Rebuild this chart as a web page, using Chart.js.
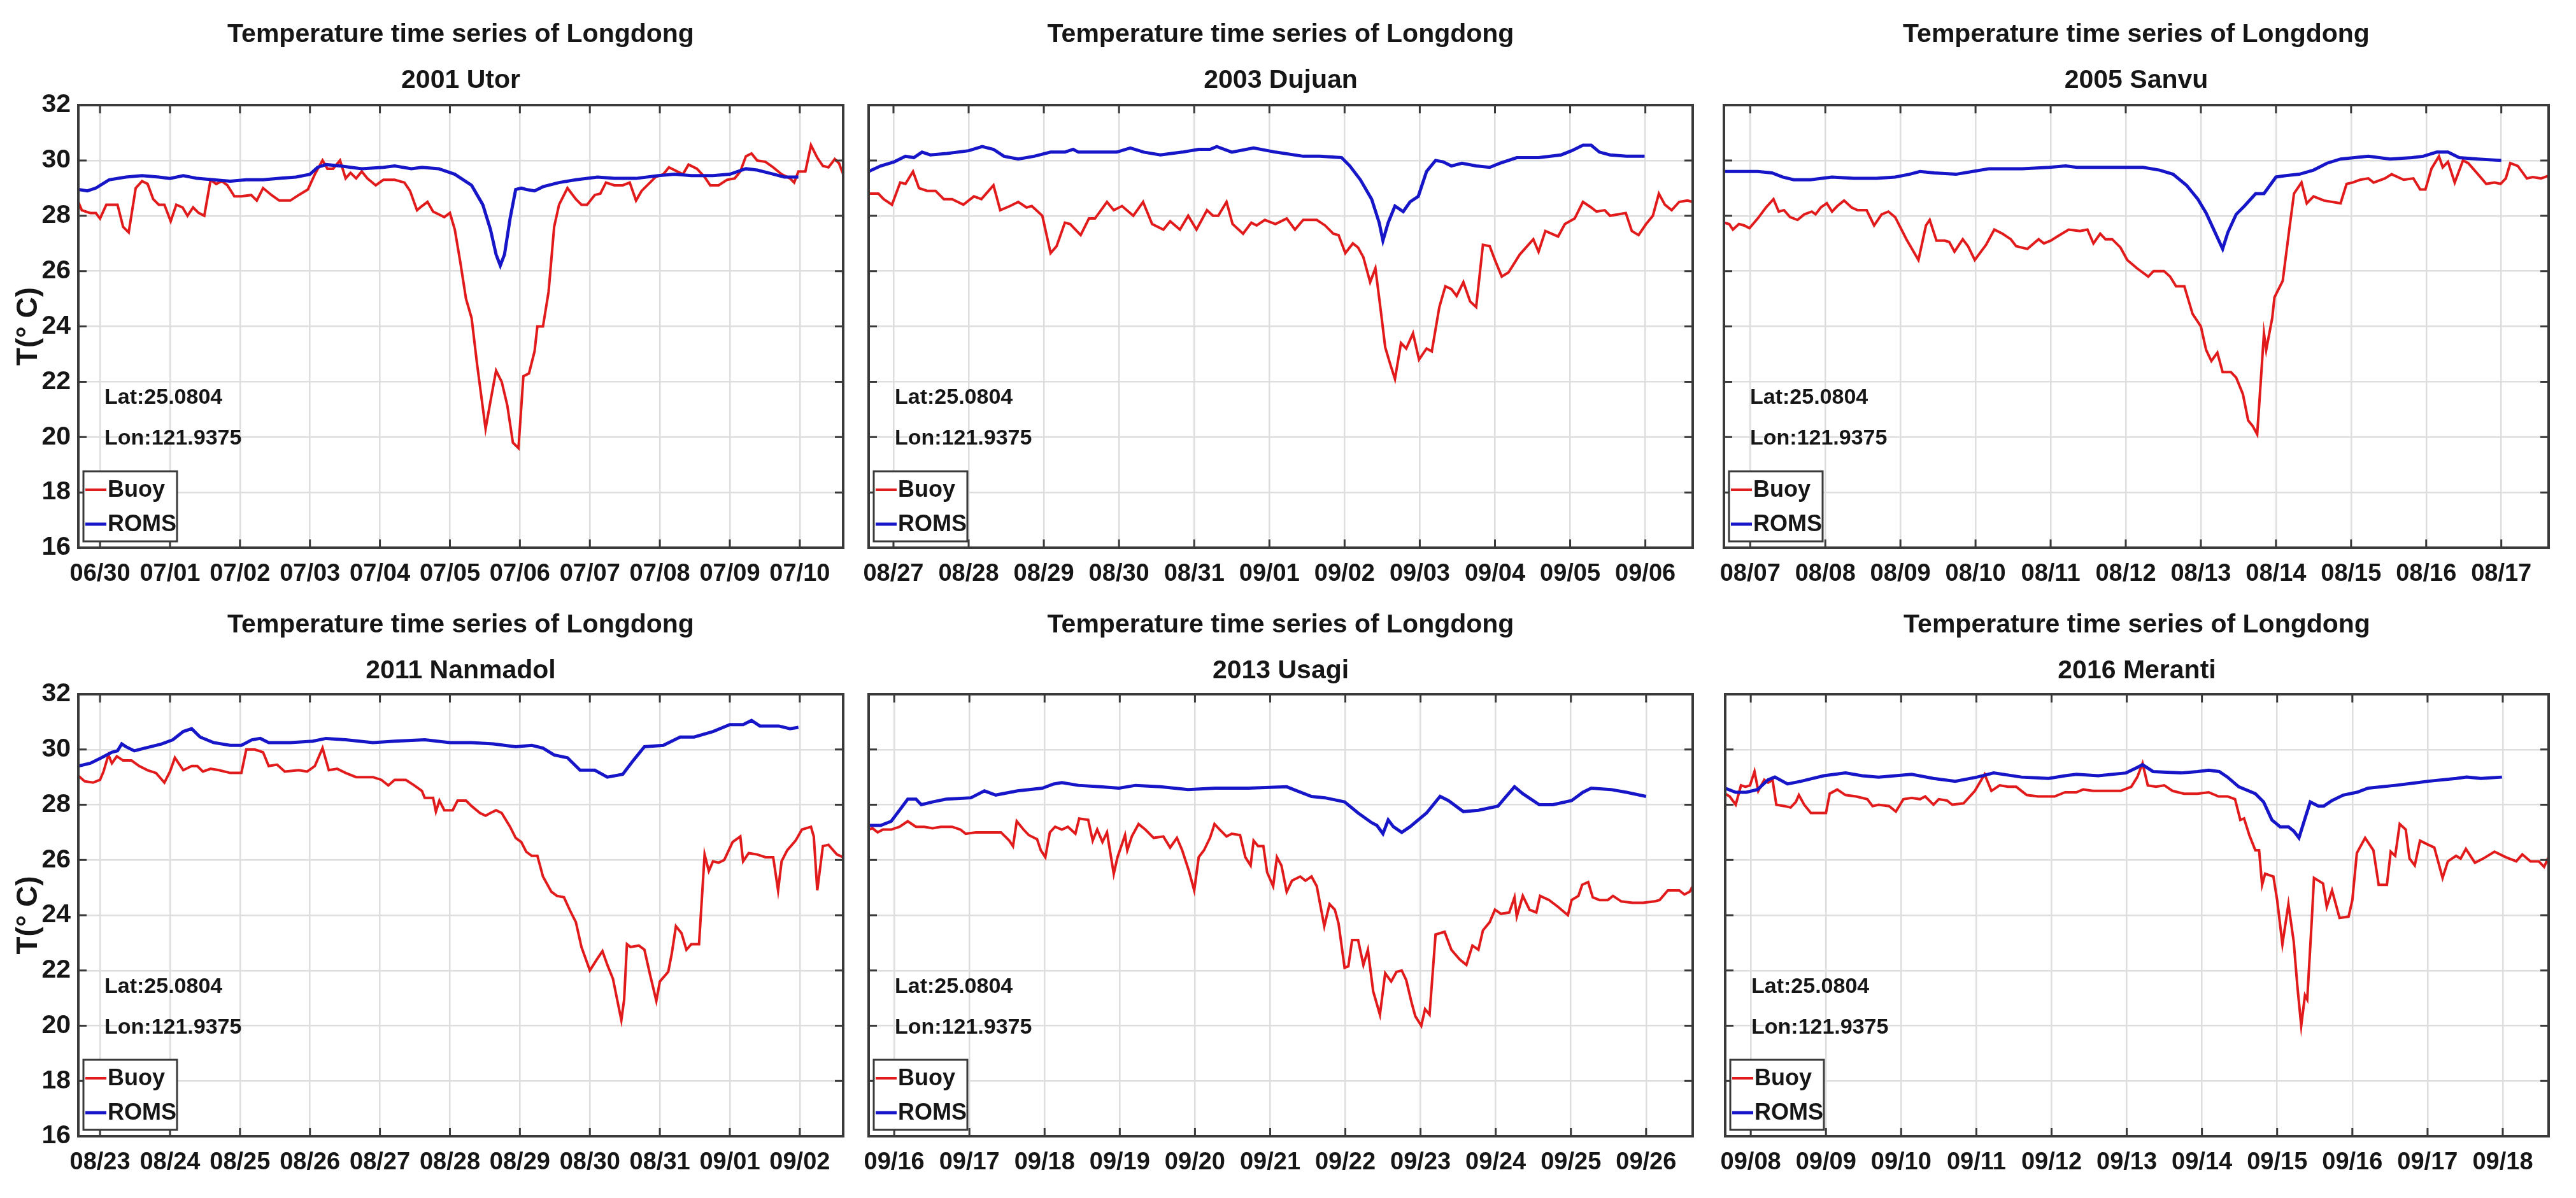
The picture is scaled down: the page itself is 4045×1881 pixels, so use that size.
<!DOCTYPE html>
<html>
<head>
<meta charset="utf-8">
<title>Temperature time series of Longdong</title>
<script src="https://cdn.jsdelivr.net/npm/chart.js@4.4.0/dist/chart.umd.min.js"></script>
<style>
  html, body { margin: 0; padding: 0; background: #fff; }
  #wrap { position: relative; width: 4045px; height: 1881px; overflow: hidden; background: #fff; }
  #wrap canvas { position: absolute; }
</style>
</head>
<body>
<div id="wrap"></div>
<script>
// station
const stationLat = '25.0804';
const stationLon = '121.9375';
const tempTicks = [16, 18, 20, 22, 24, 26, 28, 30, 32];

// x = days after the first labelled date, y = temperature (deg C)
const utorDates = ['06/30', '07/01', '07/02', '07/03', '07/04', '07/05', '07/06', '07/07', '07/08', '07/09', '07/10'];
const utorBuoy = [[-0.31,28.5],[-0.26,28.2],[-0.14,28.1],[-0.06,28.1],[0,27.9],[0.09,28.4],[0.21,28.4],[0.25,28.4],[0.33,27.6],[0.41,27.4],[0.51,29.0],[0.60,29.25],[0.68,29.15],[0.76,28.6],[0.84,28.4],[0.92,28.4],[1.01,27.8],[1.09,28.4],[1.18,28.3],[1.25,28.0],[1.33,28.3],[1.41,28.1],[1.49,28.0],[1.58,29.3],[1.66,29.15],[1.74,29.25],[1.82,29.1],[1.92,28.7],[2.02,28.7],[2.16,28.75],[2.24,28.55],[2.33,29.0],[2.45,28.75],[2.56,28.55],[2.72,28.55],[2.84,28.75],[2.97,28.95],[3.07,29.5],[3.18,30.0],[3.25,29.7],[3.33,29.7],[3.43,30.0],[3.51,29.35],[3.58,29.55],[3.66,29.35],[3.74,29.6],[3.82,29.35],[3.94,29.1],[4.05,29.3],[4.21,29.3],[4.35,29.2],[4.43,28.9],[4.53,28.2],[4.60,28.35],[4.68,28.5],[4.76,28.15],[4.84,28.05],[4.92,27.95],[5.00,28.1],[5.07,27.5],[5.15,26.3],[5.23,25.0],[5.31,24.3],[5.39,22.6],[5.51,20.3],[5.58,21.3],[5.66,22.4],[5.74,22.0],[5.82,21.15],[5.90,19.8],[5.98,19.6],[6.05,22.2],[6.13,22.3],[6.21,23.1],[6.25,24.0],[6.33,24.0],[6.41,25.25],[6.49,27.6],[6.56,28.4],[6.68,29.0],[6.80,28.6],[6.88,28.4],[6.96,28.4],[7.07,28.75],[7.15,28.8],[7.23,29.2],[7.35,29.1],[7.47,29.1],[7.57,29.2],[7.66,28.55],[7.74,28.9],[7.86,29.2],[7.94,29.4],[8.05,29.5],[8.13,29.75],[8.25,29.6],[8.33,29.5],[8.41,29.85],[8.53,29.7],[8.64,29.4],[8.72,29.1],[8.84,29.1],[8.96,29.3],[9.07,29.35],[9.15,29.6],[9.23,30.15],[9.31,30.25],[9.39,30.0],[9.51,29.95],[9.62,29.75],[9.74,29.5],[9.86,29.35],[9.92,29.2],[9.98,29.6],[10.08,29.6],[10.16,30.55],[10.25,30.1],[10.33,29.8],[10.41,29.75],[10.50,30.05],[10.56,29.9],[10.62,29.5]];
const utorRoms = [[-0.31,28.95],[-0.18,28.9],[-0.06,29.0],[0.13,29.3],[0.37,29.4],[0.60,29.45],[0.84,29.4],[1.00,29.35],[1.19,29.45],[1.39,29.35],[1.62,29.3],[1.86,29.25],[2.09,29.3],[2.33,29.3],[2.56,29.35],[2.80,29.4],[3.00,29.5],[3.11,29.75],[3.23,29.85],[3.43,29.8],[3.74,29.7],[4.05,29.75],[4.21,29.8],[4.45,29.7],[4.60,29.75],[4.84,29.7],[5.07,29.5],[5.31,29.1],[5.47,28.4],[5.58,27.5],[5.66,26.6],[5.72,26.2],[5.78,26.6],[5.86,27.9],[5.94,28.95],[6.02,29.0],[6.09,28.95],[6.21,28.9],[6.33,29.05],[6.56,29.2],[6.80,29.3],[7.11,29.4],[7.35,29.35],[7.66,29.35],[7.98,29.45],[8.21,29.5],[8.45,29.45],[8.76,29.45],[9.00,29.5],[9.23,29.7],[9.39,29.65],[9.55,29.55],[9.78,29.4],[9.98,29.4]];

const dujuanDates = ['08/27', '08/28', '08/29', '08/30', '08/31', '09/01', '09/02', '09/03', '09/04', '09/05', '09/06'];
const dujuanBuoy = [[-0.33,28.8],[-0.20,28.8],[-0.13,28.6],[-0.02,28.4],[0.09,29.2],[0.16,29.15],[0.26,29.6],[0.34,29.0],[0.45,28.9],[0.56,28.9],[0.67,28.6],[0.78,28.6],[0.93,28.4],[1.07,28.7],[1.17,28.6],[1.33,29.1],[1.42,28.2],[1.55,28.35],[1.66,28.5],[1.77,28.3],[1.84,28.35],[1.98,28.0],[2.09,26.65],[2.17,26.9],[2.28,27.75],[2.35,27.7],[2.49,27.3],[2.60,27.9],[2.68,27.9],[2.84,28.5],[2.93,28.2],[3.04,28.35],[3.19,28.0],[3.32,28.5],[3.44,27.7],[3.59,27.5],[3.68,27.8],[3.81,27.5],[3.92,28.0],[4.03,27.5],[4.17,28.2],[4.25,28.0],[4.32,28.0],[4.43,28.5],[4.51,27.7],[4.65,27.35],[4.76,27.75],[4.83,27.65],[4.94,27.85],[5.08,27.7],[5.23,27.9],[5.34,27.5],[5.45,27.85],[5.63,27.85],[5.74,27.65],[5.85,27.35],[5.92,27.3],[6.01,26.65],[6.11,27.0],[6.18,26.85],[6.25,26.5],[6.34,25.6],[6.41,26.1],[6.48,24.6],[6.54,23.25],[6.60,22.7],[6.67,22.1],[6.75,23.4],[6.82,23.2],[6.91,23.75],[6.99,22.8],[7.09,23.2],[7.16,23.1],[7.26,24.7],[7.34,25.45],[7.42,25.35],[7.49,25.1],[7.58,25.6],[7.67,24.9],[7.75,24.7],[7.84,26.95],[7.93,26.9],[8.00,26.4],[8.09,25.8],[8.18,25.95],[8.33,26.6],[8.51,27.15],[8.58,26.7],[8.67,27.45],[8.84,27.25],[8.93,27.7],[9.06,27.9],[9.17,28.5],[9.28,28.3],[9.35,28.15],[9.46,28.2],[9.53,28.0],[9.64,28.05],[9.74,28.1],[9.82,27.45],[9.91,27.3],[10.01,27.7],[10.10,28.0],[10.18,28.8],[10.26,28.4],[10.35,28.2],[10.45,28.5],[10.56,28.55],[10.63,28.5]];
const dujuanRoms = [[-0.33,29.6],[-0.17,29.8],[0.01,29.95],[0.16,30.15],[0.27,30.1],[0.38,30.3],[0.49,30.2],[0.71,30.25],[1.00,30.35],[1.18,30.5],[1.33,30.4],[1.47,30.15],[1.66,30.05],[1.87,30.15],[2.09,30.3],[2.28,30.3],[2.39,30.4],[2.46,30.3],[2.75,30.3],[2.97,30.3],[3.15,30.45],[3.33,30.3],[3.55,30.2],[3.84,30.3],[4.06,30.4],[4.21,30.4],[4.30,30.5],[4.50,30.3],[4.79,30.45],[5.08,30.3],[5.45,30.15],[5.67,30.15],[5.96,30.1],[6.07,29.8],[6.21,29.3],[6.36,28.6],[6.46,27.75],[6.51,27.1],[6.58,27.75],[6.67,28.35],[6.78,28.15],[6.87,28.5],[6.98,28.7],[7.09,29.6],[7.21,30.0],[7.31,29.95],[7.42,29.8],[7.56,29.9],[7.75,29.8],[7.93,29.75],[8.07,29.9],[8.29,30.1],[8.58,30.1],[8.88,30.2],[9.02,30.35],[9.17,30.55],[9.28,30.55],[9.39,30.3],[9.53,30.2],[9.75,30.15],[9.99,30.15]];

const sanvuDates = ['08/07', '08/08', '08/09', '08/10', '08/11', '08/12', '08/13', '08/14', '08/15', '08/16', '08/17'];
const sanvuBuoy = [[-0.35,27.75],[-0.28,27.7],[-0.23,27.5],[-0.15,27.7],[-0.08,27.65],[-0.01,27.55],[0.10,27.9],[0.21,28.3],[0.31,28.6],[0.38,28.15],[0.45,28.2],[0.53,27.95],[0.63,27.85],[0.72,28.05],[0.82,28.15],[0.87,28.05],[0.94,28.3],[1.02,28.45],[1.09,28.15],[1.16,28.35],[1.25,28.55],[1.35,28.3],[1.43,28.2],[1.55,28.2],[1.65,27.65],[1.75,28.05],[1.84,28.15],[1.93,27.95],[2.08,27.15],[2.24,26.4],[2.34,27.65],[2.39,27.85],[2.48,27.1],[2.59,27.1],[2.65,27.05],[2.72,26.7],[2.83,27.15],[2.90,26.9],[2.99,26.4],[3.14,26.95],[3.25,27.5],[3.36,27.35],[3.47,27.15],[3.54,26.9],[3.69,26.8],[3.84,27.15],[3.91,27.0],[4.00,27.1],[4.09,27.25],[4.24,27.5],[4.39,27.45],[4.49,27.5],[4.57,27.0],[4.66,27.35],[4.73,27.15],[4.82,27.15],[4.93,26.85],[5.02,26.4],[5.15,26.1],[5.30,25.8],[5.37,26.0],[5.51,26.0],[5.59,25.8],[5.67,25.45],[5.78,25.45],[5.89,24.45],[6.00,24.0],[6.07,23.15],[6.14,22.75],[6.22,23.05],[6.29,22.35],[6.40,22.35],[6.47,22.15],[6.56,21.55],[6.63,20.6],[6.69,20.4],[6.75,20.1],[6.78,21.3],[6.84,23.75],[6.87,23.15],[6.95,24.3],[6.98,25.05],[7.09,25.65],[7.17,27.35],[7.24,28.8],[7.34,29.2],[7.41,28.45],[7.50,28.7],[7.64,28.55],[7.86,28.45],[7.94,29.15],[8.02,29.2],[8.12,29.3],[8.23,29.35],[8.30,29.2],[8.45,29.35],[8.54,29.5],[8.70,29.3],[8.83,29.35],[8.92,28.95],[8.99,28.95],[9.07,29.7],[9.17,30.15],[9.22,29.75],[9.29,29.95],[9.38,29.2],[9.49,30.0],[9.56,29.9],[9.69,29.5],[9.80,29.15],[9.91,29.2],[9.99,29.15],[10.06,29.35],[10.12,29.9],[10.22,29.8],[10.34,29.35],[10.42,29.4],[10.53,29.35],[10.63,29.45]];
const sanvuRoms = [[-0.35,29.6],[-0.12,29.6],[0.10,29.6],[0.29,29.55],[0.43,29.4],[0.58,29.3],[0.80,29.3],[1.09,29.4],[1.38,29.35],[1.68,29.35],[1.93,29.4],[2.12,29.5],[2.26,29.6],[2.45,29.55],[2.74,29.5],[2.96,29.6],[3.18,29.7],[3.40,29.7],[3.62,29.7],[3.98,29.75],[4.20,29.8],[4.35,29.75],[4.64,29.75],[4.93,29.75],[5.23,29.75],[5.45,29.65],[5.63,29.5],[5.81,29.1],[5.96,28.6],[6.07,28.1],[6.18,27.45],[6.29,26.8],[6.36,27.4],[6.47,28.05],[6.58,28.35],[6.73,28.8],[6.84,28.8],[7.00,29.4],[7.13,29.45],[7.31,29.5],[7.50,29.65],[7.68,29.9],[7.86,30.05],[8.23,30.15],[8.52,30.05],[8.81,30.1],[8.96,30.15],[9.14,30.3],[9.29,30.3],[9.44,30.1],[9.69,30.05],[10.00,30.0]];

const nanmadolDates = ['08/23', '08/24', '08/25', '08/26', '08/27', '08/28', '08/29', '08/30', '08/31', '09/01', '09/02'];
const nanmadolBuoy = [[-0.31,29.05],[-0.22,28.85],[-0.10,28.8],[0,28.9],[0.05,29.2],[0.12,29.8],[0.17,29.5],[0.24,29.75],[0.33,29.6],[0.45,29.6],[0.56,29.4],[0.68,29.25],[0.80,29.15],[0.92,28.8],[1.00,29.2],[1.07,29.7],[1.19,29.25],[1.31,29.4],[1.39,29.4],[1.47,29.2],[1.58,29.3],[1.70,29.25],[1.86,29.15],[2.02,29.15],[2.09,30.0],[2.21,30.0],[2.33,29.9],[2.41,29.4],[2.53,29.45],[2.64,29.2],[2.84,29.25],[2.96,29.2],[3.07,29.4],[3.18,30.05],[3.27,29.25],[3.39,29.3],[3.51,29.15],[3.66,29.0],[3.78,29.0],[3.90,29.0],[4.02,28.9],[4.12,28.7],[4.21,28.9],[4.37,28.9],[4.49,28.7],[4.60,28.5],[4.64,28.25],[4.76,28.25],[4.80,27.75],[4.85,28.15],[4.92,27.8],[5.04,27.8],[5.11,28.15],[5.23,28.15],[5.31,27.95],[5.43,27.7],[5.51,27.6],[5.58,27.7],[5.66,27.8],[5.74,27.7],[5.86,27.2],[5.94,26.8],[6.02,26.65],[6.09,26.3],[6.17,26.15],[6.25,26.15],[6.33,25.4],[6.45,24.85],[6.53,24.7],[6.63,24.65],[6.72,24.15],[6.80,23.75],[6.88,22.85],[7.00,22.0],[7.10,22.4],[7.18,22.7],[7.25,22.2],[7.33,21.7],[7.39,20.95],[7.45,20.2],[7.49,20.95],[7.53,22.95],[7.58,22.85],[7.70,22.9],[7.78,22.75],[7.86,21.85],[7.95,20.9],[8.00,21.6],[8.12,21.95],[8.17,22.6],[8.23,23.6],[8.31,23.35],[8.38,22.75],[8.45,22.95],[8.56,22.95],[8.64,26.2],[8.70,25.6],[8.76,25.95],[8.84,25.9],[8.92,26.0],[9.04,26.65],[9.15,26.85],[9.19,25.95],[9.27,26.25],[9.39,26.2],[9.51,26.1],[9.62,26.1],[9.69,24.9],[9.74,25.95],[9.82,26.35],[9.94,26.7],[10.03,27.1],[10.16,27.2],[10.20,26.85],[10.25,24.9],[10.33,26.5],[10.41,26.55],[10.53,26.2],[10.62,26.1]];
const nanmadolRoms = [[-0.31,29.4],[-0.14,29.5],[0.02,29.7],[0.17,29.9],[0.25,29.95],[0.31,30.2],[0.37,30.1],[0.49,29.95],[0.64,30.05],[0.88,30.2],[1.04,30.35],[1.19,30.65],[1.31,30.75],[1.43,30.45],[1.62,30.25],[1.86,30.15],[2.02,30.15],[2.17,30.35],[2.29,30.4],[2.41,30.25],[2.72,30.25],[3.04,30.3],[3.23,30.4],[3.51,30.35],[3.90,30.25],[4.21,30.3],[4.64,30.35],[5.00,30.25],[5.31,30.25],[5.62,30.2],[5.94,30.1],[6.17,30.15],[6.33,30.05],[6.49,29.8],[6.68,29.7],[6.86,29.25],[7.07,29.25],[7.25,29.0],[7.47,29.1],[7.62,29.6],[7.78,30.1],[8.05,30.15],[8.29,30.45],[8.49,30.45],[8.76,30.65],[9.00,30.9],[9.19,30.9],[9.31,31.05],[9.43,30.85],[9.70,30.85],[9.86,30.75],[9.98,30.8]];

const usagiDates = ['09/16', '09/17', '09/18', '09/19', '09/20', '09/21', '09/22', '09/23', '09/24', '09/25', '09/26'];
const usagiBuoy = [[-0.34,27.1],[-0.29,27.15],[-0.22,27.0],[-0.15,27.1],[-0.04,27.1],[0.07,27.2],[0.18,27.4],[0.29,27.2],[0.40,27.2],[0.51,27.15],[0.62,27.2],[0.77,27.2],[0.88,27.1],[0.95,26.95],[1.09,27.0],[1.28,27.0],[1.42,27.0],[1.53,26.7],[1.58,26.5],[1.63,27.4],[1.72,27.1],[1.79,26.9],[1.90,26.75],[1.95,26.35],[2.01,26.1],[2.07,27.0],[2.14,27.2],[2.23,27.1],[2.31,27.2],[2.41,26.95],[2.46,27.5],[2.58,27.45],[2.64,26.7],[2.70,27.1],[2.77,26.65],[2.83,27.0],[2.92,25.5],[2.97,26.1],[3.07,26.9],[3.10,26.35],[3.16,26.85],[3.25,27.3],[3.34,27.1],[3.45,26.8],[3.58,26.85],[3.67,26.45],[3.76,26.8],[3.83,26.35],[3.92,25.6],[3.99,24.9],[4.05,26.1],[4.12,26.35],[4.20,26.8],[4.26,27.3],[4.33,27.1],[4.42,26.85],[4.49,26.95],[4.60,26.9],[4.67,26.1],[4.74,25.8],[4.78,26.7],[4.84,26.5],[4.91,26.5],[4.96,25.55],[5.04,25.05],[5.09,26.1],[5.15,25.8],[5.22,24.85],[5.29,25.25],[5.40,25.4],[5.47,25.25],[5.55,25.4],[5.62,25.05],[5.72,23.6],[5.79,24.4],[5.86,24.2],[5.91,23.7],[5.99,22.1],[6.04,22.15],[6.09,23.1],[6.17,23.1],[6.24,22.2],[6.30,22.75],[6.37,21.25],[6.46,20.4],[6.53,21.9],[6.61,21.6],[6.68,21.95],[6.75,22.0],[6.81,21.65],[6.88,20.85],[6.93,20.35],[7.01,20.0],[7.06,20.6],[7.12,20.4],[7.20,23.3],[7.32,23.4],[7.41,22.75],[7.52,22.4],[7.61,22.2],[7.69,22.9],[7.77,22.75],[7.83,23.45],[7.92,23.75],[7.99,24.2],[8.07,24.05],[8.18,24.1],[8.25,24.65],[8.28,23.95],[8.36,24.7],[8.45,24.2],[8.54,24.1],[8.59,24.7],[8.71,24.55],[8.83,24.3],[8.96,24.0],[9.01,24.55],[9.10,24.7],[9.15,25.1],[9.23,25.2],[9.29,24.65],[9.38,24.55],[9.49,24.55],[9.56,24.7],[9.67,24.5],[9.82,24.45],[9.96,24.45],[10.11,24.5],[10.18,24.55],[10.29,24.9],[10.44,24.9],[10.51,24.75],[10.58,24.85],[10.62,25.05]];
const usagiRoms = [[-0.34,27.25],[-0.18,27.25],[-0.04,27.4],[0.07,27.8],[0.18,28.2],[0.29,28.2],[0.36,28.0],[0.51,28.1],[0.69,28.2],[1.02,28.25],[1.20,28.5],[1.35,28.35],[1.64,28.5],[1.97,28.6],[2.12,28.75],[2.23,28.8],[2.45,28.7],[2.74,28.65],[2.99,28.6],[3.21,28.7],[3.54,28.65],[3.91,28.55],[4.27,28.6],[4.71,28.6],[5.22,28.65],[5.36,28.5],[5.55,28.3],[5.73,28.25],[5.99,28.1],[6.17,27.7],[6.35,27.35],[6.42,27.25],[6.50,26.95],[6.57,27.45],[6.64,27.2],[6.75,27.0],[6.86,27.2],[7.08,27.7],[7.26,28.3],[7.37,28.15],[7.57,27.75],[7.77,27.8],[8.03,27.95],[8.14,28.3],[8.25,28.65],[8.36,28.4],[8.58,28.0],[8.76,28.0],[9.01,28.15],[9.16,28.45],[9.27,28.6],[9.53,28.55],[9.74,28.45],[10.00,28.3]];

const merantiDates = ['09/08', '09/09', '09/10', '09/11', '09/12', '09/13', '09/14', '09/15', '09/16', '09/17', '09/18'];
const merantiBuoy = [[-0.34,28.4],[-0.28,28.3],[-0.20,28.0],[-0.13,28.7],[-0.07,28.65],[-0.01,28.7],[0.05,29.2],[0.10,28.5],[0.18,28.9],[0.23,28.8],[0.29,28.9],[0.34,28.0],[0.45,27.95],[0.53,27.9],[0.60,28.1],[0.64,28.35],[0.71,28.0],[0.80,27.7],[0.93,27.7],[1.00,27.7],[1.05,28.4],[1.15,28.55],[1.26,28.35],[1.40,28.3],[1.55,28.2],[1.62,27.95],[1.70,28.0],[1.84,27.95],[1.93,27.75],[2.03,28.2],[2.14,28.25],[2.25,28.2],[2.32,28.3],[2.43,28.0],[2.50,28.2],[2.61,28.15],[2.68,28.0],[2.83,28.05],[2.98,28.5],[3.11,29.1],[3.20,28.5],[3.31,28.7],[3.42,28.65],[3.53,28.65],[3.67,28.35],[3.82,28.3],[4.04,28.3],[4.18,28.45],[4.33,28.45],[4.42,28.55],[4.55,28.5],[4.73,28.5],[4.92,28.5],[5.06,28.65],[5.14,29.0],[5.21,29.5],[5.28,28.7],[5.39,28.65],[5.50,28.7],[5.61,28.5],[5.76,28.4],[5.94,28.4],[6.09,28.45],[6.22,28.3],[6.34,28.3],[6.44,28.2],[6.51,27.45],[6.56,27.5],[6.63,26.9],[6.71,26.35],[6.76,26.35],[6.80,25.1],[6.84,25.5],[6.95,25.4],[7.00,24.55],[7.07,22.95],[7.15,24.4],[7.22,23.05],[7.27,21.4],[7.32,20.0],[7.37,21.1],[7.40,20.95],[7.46,23.8],[7.49,25.35],[7.61,25.15],[7.66,24.3],[7.73,24.9],[7.83,23.9],[7.95,23.95],[8.00,24.55],[8.06,26.25],[8.17,26.8],[8.28,26.35],[8.35,25.1],[8.46,25.1],[8.51,26.3],[8.57,26.15],[8.63,27.3],[8.71,27.1],[8.76,26.05],[8.83,25.8],[8.90,26.7],[9.01,26.55],[9.09,26.45],[9.20,25.35],[9.27,25.95],[9.38,26.15],[9.44,26.05],[9.51,26.4],[9.63,25.9],[9.74,26.05],[9.89,26.3],[10.04,26.1],[10.18,25.95],[10.26,26.2],[10.37,25.95],[10.48,25.95],[10.55,25.75],[10.61,26.1]];
const merantiRoms = [[-0.34,28.6],[-0.20,28.45],[-0.06,28.45],[0.09,28.55],[0.23,28.9],[0.32,29.0],[0.49,28.75],[0.67,28.85],[0.97,29.05],[1.26,29.15],[1.48,29.05],[1.70,29.0],[2.14,29.1],[2.43,28.95],[2.72,28.85],[3.01,29.0],[3.23,29.15],[3.60,29.0],[3.96,28.95],[4.18,29.05],[4.33,29.1],[4.62,29.05],[4.99,29.15],[5.14,29.35],[5.21,29.45],[5.35,29.2],[5.72,29.15],[5.94,29.2],[6.09,29.25],[6.23,29.2],[6.34,29.0],[6.49,28.65],[6.71,28.4],[6.82,28.1],[6.93,27.45],[7.04,27.2],[7.15,27.2],[7.22,27.05],[7.29,26.8],[7.37,27.5],[7.44,28.1],[7.55,27.95],[7.62,27.95],[7.73,28.15],[7.88,28.35],[8.06,28.45],[8.21,28.6],[8.57,28.7],[8.87,28.8],[9.01,28.85],[9.38,28.95],[9.52,29.0],[9.71,28.95],[9.99,29.0]];

const FONT = "'Liberation Sans', Arial, Helvetica, sans-serif";
const TEXT_COLOR = '#161616';
const AXIS_COLOR = '#3a3a3a';
const GRID_COLOR = '#dedede';
const BUOY_COLOR = '#e11b1b';
const ROMS_COLOR = '#1616c8';

Chart.defaults.font.family = FONT;
Chart.defaults.color = TEXT_COLOR;

// canvas box [left, top, width, height], plot left inside canvas, right padding, x-axis band
const panels = [
  { title: '2001 Utor', dates: utorDates, buoy: utorBuoy, roms: utorRoms, xMin: -0.31, xMax: 10.62,
    box: [0, 0, 1340, 925], yAxisW: 123, padRight: 16, xAxisH: 65, titlePad: 19, yLabels: true },
  { title: '2003 Dujuan', dates: dujuanDates, buoy: dujuanBuoy, roms: dujuanRoms, xMin: -0.33, xMax: 10.63,
    box: [1340, 0, 1350, 925], yAxisW: 24, padRight: 32, xAxisH: 65, titlePad: 19, yLabels: false },
  { title: '2005 Sanvu', dates: sanvuDates, buoy: sanvuBuoy, roms: sanvuRoms, xMin: -0.35, xMax: 10.63,
    box: [2690, 0, 1355, 925], yAxisW: 17, padRight: 43, xAxisH: 65, titlePad: 19, yLabels: false },
  { title: '2011 Nanmadol', dates: nanmadolDates, buoy: nanmadolBuoy, roms: nanmadolRoms, xMin: -0.31, xMax: 10.62,
    box: [0, 925, 1340, 956], yAxisW: 123, padRight: 16, xAxisH: 97, titlePad: 21, yLabels: true },
  { title: '2013 Usagi', dates: usagiDates, buoy: usagiBuoy, roms: usagiRoms, xMin: -0.34, xMax: 10.62,
    box: [1340, 925, 1350, 956], yAxisW: 24, padRight: 32, xAxisH: 97, titlePad: 21, yLabels: false },
  { title: '2016 Meranti', dates: merantiDates, buoy: merantiBuoy, roms: merantiRoms, xMin: -0.34, xMax: 10.61,
    box: [2690, 925, 1355, 956], yAxisW: 19, padRight: 43, xAxisH: 97, titlePad: 21, yLabels: false }
];

// MATLAB-like box: frame, inward ticks on all sides, station text and legend
const boxPlugin = {
  id: 'matlabBox',
  afterDatasetsDraw(chart) {
    const { ctx, chartArea: a, scales: { x, y } } = chart;
    const tl = 13;
    ctx.save();
    ctx.strokeStyle = AXIS_COLOR;
    ctx.lineWidth = 3;
    ctx.beginPath();
    x.ticks.forEach(t => {
      const px = x.getPixelForValue(t.value);
      ctx.moveTo(px, a.bottom); ctx.lineTo(px, a.bottom - tl);
      ctx.moveTo(px, a.top); ctx.lineTo(px, a.top + tl);
    });
    y.ticks.forEach(t => {
      const py = y.getPixelForValue(t.value);
      ctx.moveTo(a.left, py); ctx.lineTo(a.left + tl, py);
      ctx.moveTo(a.right, py); ctx.lineTo(a.right - tl, py);
    });
    ctx.stroke();
    ctx.lineWidth = 4;
    ctx.strokeRect(a.left, a.top, a.right - a.left, a.bottom - a.top);

    ctx.fillStyle = TEXT_COLOR;
    ctx.textBaseline = 'middle';
    ctx.textAlign = 'left';
    ctx.font = 'bold 34px ' + FONT;
    ctx.fillText('Lat:' + stationLat, a.left + 41, a.top + 460);
    ctx.fillText('Lon:' + stationLon, a.left + 41, a.top + 524);

    // legend
    const lx = a.left + 8, ly = a.bottom - 120, lw = 147, lh = 110;
    ctx.fillStyle = '#fff';
    ctx.fillRect(lx, ly, lw, lh);
    ctx.lineWidth = 3;
    ctx.strokeStyle = AXIS_COLOR;
    ctx.strokeRect(lx, ly, lw, lh);
    ctx.font = 'bold 36px ' + FONT;
    const rows = [chart.data.datasets[0], chart.data.datasets[1]];
    rows.forEach((ds, i) => {
      const ry = ly + 29 + i * 54;
      ctx.strokeStyle = ds.borderColor;
      ctx.lineWidth = ds.borderWidth;
      ctx.beginPath();
      ctx.moveTo(lx + 3, ry); ctx.lineTo(lx + 36, ry);
      ctx.stroke();
      ctx.fillStyle = TEXT_COLOR;
      ctx.fillText(ds.label, lx + 38, ry + 1);
    });
    ctx.restore();
  }
};

const wrap = document.getElementById('wrap');

panels.forEach(p => {
  const [bx, by, bw, bh] = p.box;
  const canvas = document.createElement('canvas');
  canvas.width = bw;
  canvas.height = bh;
  canvas.style.left = bx + 'px';
  canvas.style.top = by + 'px';
  canvas.style.width = bw + 'px';
  canvas.style.height = bh + 'px';
  wrap.appendChild(canvas);

  new Chart(canvas.getContext('2d'), {
    type: 'line',
    data: {
      datasets: [{
        label: 'Buoy',
        data: p.buoy.map(([d, t]) => ({ x: d, y: t })),
        borderColor: BUOY_COLOR,
        borderWidth: 4,
        pointRadius: 0,
        tension: 0,
        order: 1
      }, {
        label: 'ROMS',
        data: p.roms.map(([d, t]) => ({ x: d, y: t })),
        borderColor: ROMS_COLOR,
        borderWidth: 5,
        pointRadius: 0,
        tension: 0,
        order: 0
      }]
    },
    options: {
      responsive: false,
      animation: false,
      devicePixelRatio: 1,
      events: [],
      layout: { padding: { left: 0, top: 0, bottom: 0, right: p.padRight } },
      scales: {
        x: {
          type: 'linear',
          min: p.xMin,
          max: p.xMax,
          afterBuildTicks: s => { s.ticks = p.dates.map((_, i) => ({ value: i })); },
          afterFit: s => { s.height = p.xAxisH; s.paddingLeft = 0; s.paddingRight = 0; },
          ticks: {
            autoSkip: false,
            maxRotation: 0,
            padding: 19,
            color: TEXT_COLOR,
            font: { size: 38, weight: 'bold' },
            callback: v => p.dates[Math.round(v)]
          },
          grid: { color: GRID_COLOR, lineWidth: 2.5, drawTicks: false },
          border: { display: false }
        },
        y: {
          min: 16,
          max: 32,
          afterBuildTicks: s => { s.ticks = tempTicks.map(v => ({ value: v })); },
          afterFit: s => { s.width = p.yAxisW; s.paddingTop = 0; s.paddingBottom = 0; },
          ticks: {
            display: p.yLabels,
            padding: 12,
            color: TEXT_COLOR,
            font: { size: 41, weight: 'bold', family: "'Liberation Sans Narrow', " + FONT }
          },
          title: {
            display: p.yLabels,
            text: 'T(° C)',
            color: TEXT_COLOR,
            font: { size: 46, weight: 'bold' },
            padding: { top: 18, bottom: 0 }
          },
          grid: { color: GRID_COLOR, lineWidth: 2.5, drawTicks: false },
          border: { display: false }
        }
      },
      plugins: {
        legend: { display: false },
        tooltip: { enabled: false },
        title: {
          display: true,
          fullSize: false,
          text: ['Temperature time series of Longdong', p.title],
          color: TEXT_COLOR,
          font: { size: 41, weight: 'bold', lineHeight: '72px' },
          padding: { top: p.titlePad, bottom: 165 - 144 - p.titlePad }
        }
      }
    },
    plugins: [boxPlugin]
  });
});
</script>
</body>
</html>
